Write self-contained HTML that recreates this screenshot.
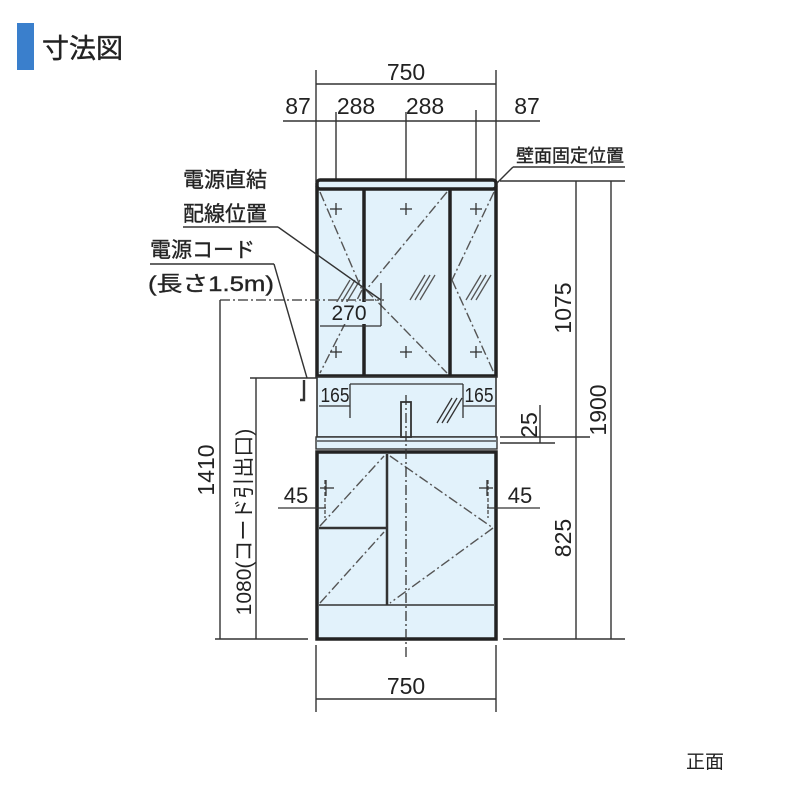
<!DOCTYPE html>
<html><head><meta charset="utf-8"><style>
html,body{margin:0;padding:0;background:#fff;width:800px;height:800px;overflow:hidden}
svg text{font-family:"Liberation Sans","Noto Sans CJK JP",sans-serif;fill:#222}
</style></head><body>
<svg width="800" height="800" viewBox="0 0 800 800" xmlns="http://www.w3.org/2000/svg">
<rect x="17" y="23" width="17" height="47" fill="#3a7fcc"/>
<text x="42" y="58" font-size="27" stroke="#222" stroke-width="0.4">寸法図</text>

<g stroke="#333" stroke-width="1.4" fill="none">
<line x1="316" y1="70" x2="316" y2="182"/><line x1="496" y1="70" x2="496" y2="182"/>
<line x1="316" y1="84" x2="496" y2="84"/>
<line x1="283" y1="121" x2="540" y2="121"/>
<line x1="336" y1="112" x2="336" y2="182"/><line x1="406" y1="112" x2="406" y2="182"/><line x1="476" y1="110" x2="476" y2="182"/>
</g>
<text x="406" y="80" font-size="23" text-anchor="middle">750</text>
<text x="298" y="114" font-size="23" text-anchor="middle">87</text>
<text x="356" y="114" font-size="23" text-anchor="middle">288</text>
<text x="425" y="114" font-size="23" text-anchor="middle">288</text>
<text x="527" y="114" font-size="23" text-anchor="middle">87</text>

<rect x="317" y="188" width="179" height="188" fill="#e2f2fb" stroke="#222" stroke-width="3.5"/>
<rect x="317" y="180" width="179" height="9" rx="3" fill="#e2f2fb" stroke="#222" stroke-width="3.5"/>
<line x1="364" y1="189" x2="364" y2="376" stroke="#222" stroke-width="3.5"/>
<line x1="450" y1="189" x2="450" y2="376" stroke="#222" stroke-width="3.5"/>
<g stroke="#555" stroke-width="1.4" stroke-dasharray="10,3,2,3" fill="none">
<line x1="320" y1="192" x2="362" y2="290"/><line x1="362" y1="290" x2="320" y2="373"/>
<line x1="447" y1="192" x2="366" y2="290"/><line x1="366" y1="290" x2="447" y2="373"/>
<line x1="494" y1="192" x2="452" y2="280"/><line x1="452" y1="280" x2="494" y2="373"/>
<line x1="220" y1="300" x2="384" y2="300"/>
</g>
<g stroke="#333" stroke-width="1.3">
<line x1="330" y1="209" x2="342" y2="209"/><line x1="336" y1="203" x2="336" y2="215"/>
<line x1="400" y1="209" x2="412" y2="209"/><line x1="406" y1="203" x2="406" y2="215"/>
<line x1="470" y1="209" x2="482" y2="209"/><line x1="476" y1="203" x2="476" y2="215"/>
<line x1="330" y1="352" x2="342" y2="352"/><line x1="336" y1="346" x2="336" y2="358"/>
<line x1="400" y1="352" x2="412" y2="352"/><line x1="406" y1="346" x2="406" y2="358"/>
<line x1="470" y1="352" x2="482" y2="352"/><line x1="476" y1="346" x2="476" y2="358"/>
<line x1="381" y1="283" x2="381" y2="326"/><line x1="320" y1="326" x2="381" y2="326"/>
</g>
<g stroke="#555" stroke-width="1.3">
<line x1="335" y1="305" x2="350" y2="280"/><line x1="340" y1="305" x2="355" y2="280"/><line x1="345" y1="305" x2="360" y2="280"/>
<line x1="410" y1="300" x2="425" y2="275"/><line x1="415" y1="300" x2="430" y2="275"/><line x1="420" y1="300" x2="435" y2="275"/>
<line x1="466" y1="300" x2="481" y2="275"/><line x1="471" y1="300" x2="486" y2="275"/><line x1="476" y1="300" x2="491" y2="275"/>
</g>
<rect x="321" y="302" width="57" height="22" fill="#e2f2fb"/>
<text x="349" y="320" font-size="21" text-anchor="middle">270</text>

<rect x="317" y="377" width="179" height="60" fill="#e2f2fb" stroke="#333" stroke-width="1.6"/>
<rect x="316" y="437" width="181" height="12" fill="#e2f2fb" stroke="#333" stroke-width="1.4"/>
<line x1="317" y1="441" x2="496" y2="441" stroke="#333" stroke-width="1.2"/>
<g stroke="#333" stroke-width="1.3">
<line x1="350" y1="384" x2="463" y2="384"/>
<line x1="350" y1="384" x2="350" y2="418"/><line x1="463" y1="384" x2="463" y2="418"/>
<line x1="319" y1="406" x2="350" y2="406"/><line x1="463" y1="406" x2="495" y2="406"/>
<line x1="437" y1="423" x2="452" y2="398"/><line x1="442" y1="423" x2="457" y2="398"/><line x1="447" y1="423" x2="462" y2="398"/>
</g>
<rect x="401" y="402" width="10" height="35" fill="#e2f2fb" stroke="#333" stroke-width="1.8"/>
<text x="335" y="402" font-size="20" text-anchor="middle" textLength="29" lengthAdjust="spacingAndGlyphs">165</text>
<text x="479" y="402" font-size="20" text-anchor="middle" textLength="29" lengthAdjust="spacingAndGlyphs">165</text>

<rect x="317" y="452" width="179" height="187" fill="#e2f2fb" stroke="#222" stroke-width="3.5"/>
<g stroke="#333" stroke-width="2.5">
<line x1="387" y1="454" x2="387" y2="605"/>
<line x1="319" y1="528" x2="387" y2="528"/>
</g>
<line x1="319" y1="605" x2="494" y2="605" stroke="#333" stroke-width="1.4"/>
<g stroke="#555" stroke-width="1.4" stroke-dasharray="10,3,2,3" fill="none">
<line x1="320" y1="526" x2="384" y2="456"/><line x1="320" y1="603" x2="384" y2="532"/>
<line x1="390" y1="456" x2="493" y2="528"/><line x1="493" y1="528" x2="390" y2="603"/>
<line x1="325" y1="480" x2="325" y2="518" stroke-dasharray="4,2"/><line x1="488" y1="480" x2="488" y2="518" stroke-dasharray="4,2"/>
</g>
<line x1="406" y1="395" x2="406" y2="660" stroke="#333" stroke-width="1.3" stroke-dasharray="10,3,2,3"/>
<g stroke="#333" stroke-width="1.3">
<line x1="320" y1="488" x2="334" y2="488"/><line x1="326" y1="480" x2="326" y2="496"/>
<line x1="479" y1="488" x2="493" y2="488"/><line x1="487" y1="480" x2="487" y2="496"/>
<line x1="278" y1="508" x2="326" y2="508"/><line x1="487" y1="508" x2="540" y2="508"/>
</g>
<text x="296" y="503" font-size="22" text-anchor="middle">45</text>
<text x="520" y="503" font-size="22" text-anchor="middle">45</text>

<g stroke="#333" stroke-width="1.4">
<line x1="316" y1="645" x2="316" y2="712"/><line x1="496" y1="645" x2="496" y2="712"/>
<line x1="316" y1="699" x2="496" y2="699"/>
<line x1="215" y1="639" x2="308" y2="639"/><line x1="503" y1="639" x2="625" y2="639"/>
</g>
<text x="406" y="694" font-size="23" text-anchor="middle">750</text>

<g stroke="#333" stroke-width="1.4" fill="none">
<line x1="500" y1="181" x2="625" y2="181"/>
<line x1="576" y1="181" x2="576" y2="639"/>
<line x1="611" y1="181" x2="611" y2="639"/>
<line x1="500" y1="437" x2="590" y2="437"/>
<line x1="500" y1="443" x2="555" y2="443"/>
<line x1="540" y1="405" x2="540" y2="443"/>
<line x1="497" y1="183" x2="513" y2="167"/><line x1="513" y1="167" x2="625" y2="167"/>
</g>
<text transform="translate(571,308) rotate(-90)" font-size="23" text-anchor="middle">1075</text>
<text transform="translate(606,410) rotate(-90)" font-size="23" text-anchor="middle">1900</text>
<text transform="translate(537,425) rotate(-90)" font-size="23" text-anchor="middle">25</text>
<text transform="translate(571,538) rotate(-90)" font-size="23" text-anchor="middle">825</text>
<text x="516" y="162" font-size="18" fill="#333" stroke="#333" stroke-width="0.4">壁面固定位置</text>

<g stroke="#333" stroke-width="1.4" fill="none">
<line x1="220" y1="300" x2="220" y2="639"/>
<line x1="256" y1="378" x2="256" y2="639"/>
<line x1="250" y1="378" x2="317" y2="378"/>
<line x1="183" y1="227" x2="278" y2="227"/><line x1="278" y1="227" x2="381" y2="300"/>
<line x1="150" y1="264" x2="274" y2="264"/><line x1="274" y1="264" x2="307" y2="378"/>
<path d="M304 380 L304 400 L300 400" stroke-width="2.4"/>
</g>
<text transform="translate(214,470) rotate(-90)" font-size="23" text-anchor="middle">1410</text>
<text transform="translate(251,522) rotate(-90)" font-size="21" text-anchor="middle">1080(コード引出口)</text>
<g fill="#333" stroke="#333" stroke-width="0.4" font-size="21">
<text x="183" y="187">電源直結</text>
<text x="183" y="221">配線位置</text>
<text x="150" y="257">電源コード</text>
<text x="148" y="291" textLength="126" lengthAdjust="spacingAndGlyphs">(長さ1.5m)</text>
</g>

<text x="686" y="768" font-size="19">正面</text>
</svg>
</body></html>
